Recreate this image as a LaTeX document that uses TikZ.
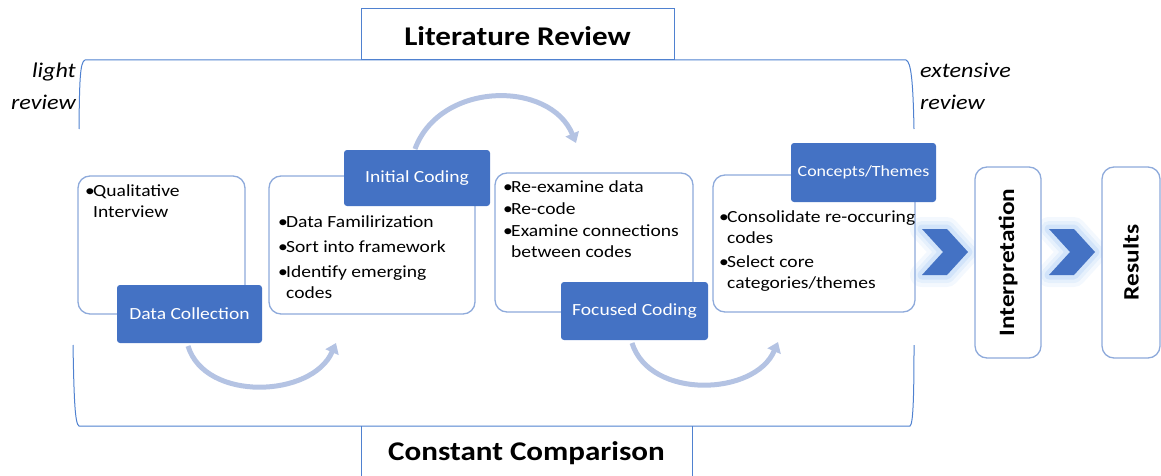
\documentclass[tikz,border=0pt]{standalone}
\usepackage{fontspec}
\setmainfont{Carlito}[FakeStretch=1.15]
\usetikzlibrary{arrows.meta}
\definecolor{blu}{HTML}{4472C4}
\definecolor{bord}{HTML}{8EAADB}
\definecolor{brk}{HTML}{4F81D0}
\definecolor{arr}{HTML}{B4C3E3}
\definecolor{glowc}{HTML}{8DBBF2}
\newcommand{\bul}{\makebox[8pt][l]{•}}
\newcommand{\ind}{\hspace*{8pt}}
\begin{document}
\begin{tikzpicture}[x=1pt,y=-1pt,
  wbox/.style={draw=bord, line width=1.3pt, rounded corners=12pt, fill=white, inner sep=0},
  bbox/.style={fill=blu, text=white, rounded corners=3pt, inner sep=0, font=\fontsize{17}{20}\selectfont},
  btxt/.style={anchor=north west, inner sep=0, align=left, font=\fontsize{17}{21}\selectfont},
  brack/.style={draw=brk, line width=1pt},
  cyc/.style={draw=arr, line width=5pt, -{Triangle[length=10pt,width=14pt]}},
  side/.style={inner sep=0, font=\itshape\fontsize{21}{32}\selectfont},
  vlab/.style={rotate=90, inner sep=0, font=\bfseries\fontsize{22}{24}\selectfont},
  title/.style={inner sep=0, font=\bfseries\fontsize{27}{32}\selectfont}]
\useasboundingbox (0,0) rectangle (1161,476);

% brackets
\draw[brack] (79,129) .. controls (79.5,80) and (80,62) .. (85,60) -- (906,60) .. controls (911,62) and (913,80) .. (914,129);
\draw[brack] (73,345) .. controls (74,400) and (75,424) .. (79,426) -- (910,426) .. controls (913,424) and (914,400) .. (914,345);

\node[draw=brk, line width=1pt, fill=white, minimum width=313pt, minimum height=51pt, inner sep=0] (lr) at (517.5,34.5) {};
\node[title] (lrt) at (517.5,36) {Literature Review};
\draw[brack] (361,476) -- (361,426);
\draw[brack] (692,426) -- (692,476);
\node[title] (cct) at (526.5,453) {Constant Comparison};

\node[side, align=right, anchor=east] (lrv) at (76,86) {light\\review};
\node[side, align=left, anchor=west] (erv) at (920,86) {extensive\\review};

% cycle arrows
\coordinate (a1s) at (188,346); \coordinate (a1e) at (336,343);
\coordinate (a2s) at (415,149); \coordinate (a2e) at (576,143);
\coordinate (a3s) at (632,343); \coordinate (a3e) at (778,342);
\draw[cyc] (a1s) .. controls (205,402) and (312,398) .. (a1e);
\draw[cyc] (a2s) .. controls (440,81) and (550,80) .. (a2e);
\draw[cyc] (a3s) .. controls (650,400) and (755,396) .. (a3e);

% white boxes
\node[wbox, minimum width=167pt, minimum height=138pt] (b1) at (161.5,245) {};
\node[wbox, minimum width=206pt, minimum height=138pt] (b2) at (372,245) {};
\node[wbox, minimum width=198pt, minimum height=139pt] (b3) at (594,242.5) {};
\node[wbox, minimum width=202pt, minimum height=137pt] (b4) at (814,243.5) {};

% texts
\node[btxt] (t1) at (85,184) {\bul Qualitative\\\ind Interview};
\node[btxt] (t2) at (278,215) {\bul Data Familirization\\[4pt]\bul Sort into framework\\[4pt]\bul Identify emerging\\\ind codes};
\node[btxt] (t3) at (503,180) {\bul Re-examine data\\[1pt]\bul Re-code\\[1pt]\bul Examine connections\\\ind between codes};
\node[btxt] (t4) at (719,210) {\bul Consolidate re-occuring\\\ind codes\\[3pt]\bul Select core\\\ind categories/themes};

% blue labels
\node[bbox, minimum width=145pt, minimum height=58pt] (dc) at (189.5,314) {Data Collection};
\node[bbox, minimum width=146pt, minimum height=56pt] (ic) at (417,178) {Initial Coding};
\node[bbox, minimum width=147pt, minimum height=58pt] (fc) at (634.5,311) {Focused Coding};
\node[bbox, minimum width=145pt, minimum height=59pt, font=\fontsize{15.6}{19}\selectfont] (ct) at (863.5,172.5) {Concepts/Themes};

% chevrons
\foreach \dx in {0,127} {
  \begin{scope}[shift={(\dx,0)}]
    \foreach \w/\o in {24/0.10,16/0.14,9/0.22} {
      \draw[glowc, line width=\w pt, opacity=\o, line join=round] (922,229) -- (947,229) -- (968,252) -- (947,275) -- (922,275) -- (943,252) -- cycle;
    }
    \fill[blu] (922,229) -- (947,229) -- (968,252) -- (947,275) -- (922,275) -- (943,252) -- cycle;
  \end{scope}
}

% final boxes
\node[wbox, minimum width=66pt, minimum height=191pt] (interp) at (1008,262.5) {};
\node[vlab] (interpL) at (interp.center) {Interpretation};
\node[wbox, minimum width=58pt, minimum height=191pt] (res) at (1131,262.5) {};
\node[vlab] (resL) at (res.center) {Results};
\end{tikzpicture}
\end{document}
